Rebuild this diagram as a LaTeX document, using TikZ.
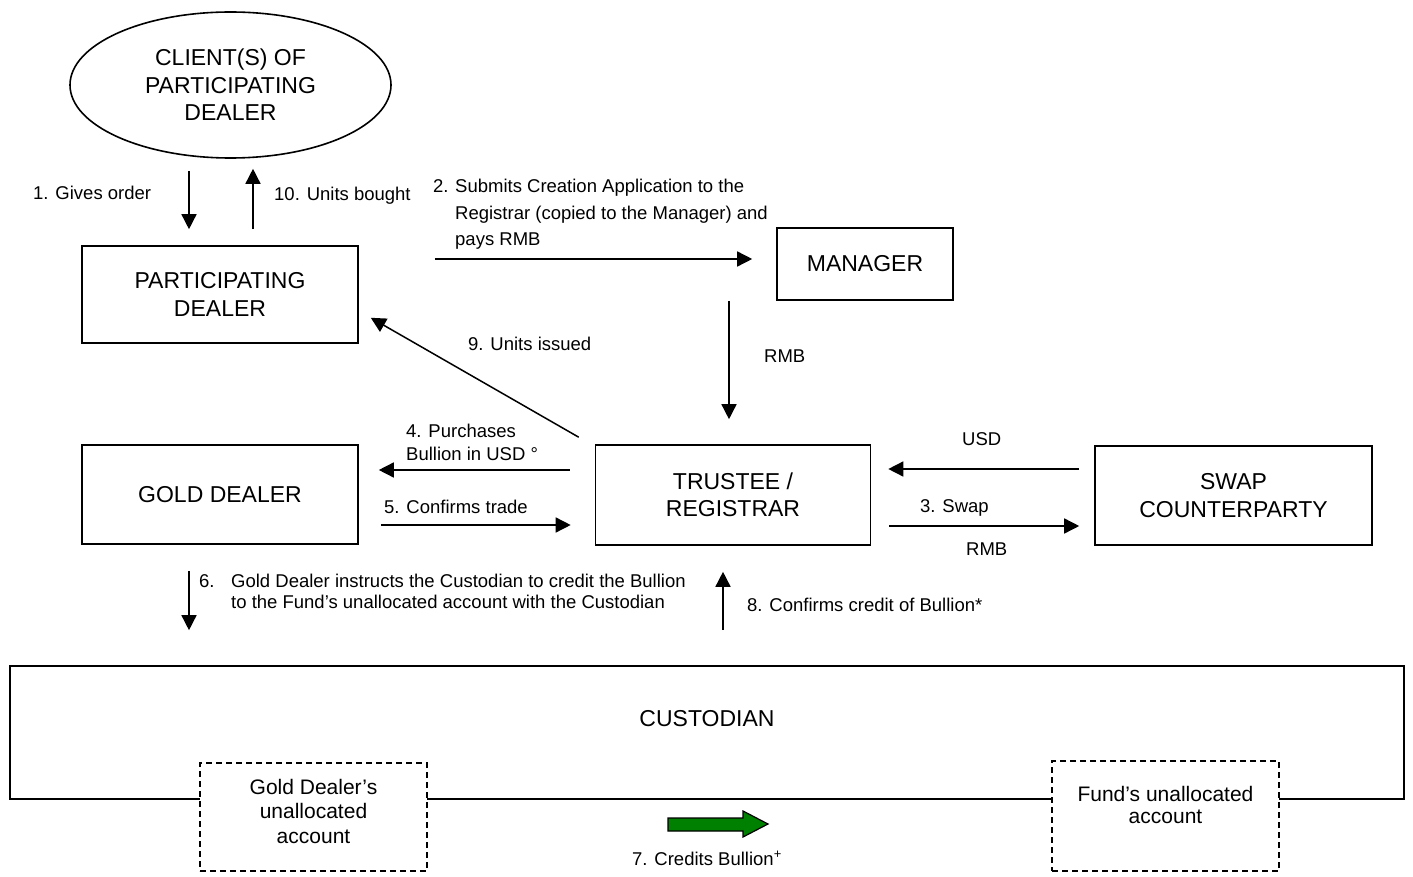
\documentclass[tikz,border=0pt]{standalone}
\usepackage{fontspec}
\setmainfont{Liberation Sans}
\usetikzlibrary{arrows.meta,shapes.geometric,calc}
\definecolor{dkgreen}{RGB}{0,128,0}
\newcommand\fbig{\fontsize{23}{27.5}\selectfont}
\newcommand\fsm{\fontsize{18.5}{21}\selectfont}
\begin{document}
\begin{tikzpicture}[x=1pt,y=-1pt,
  box/.style={draw, line width=1.6pt, inner sep=0pt, align=center, font=\fbig},
  acc/.style={draw, line width=1.5pt, dash pattern=on 6pt off 4pt, fill=white, inner sep=0pt},
  arr/.style={line width=1.5pt, -{Triangle[length=15pt,width=15pt]}},
  lbl/.style={inner sep=0pt, anchor=base west, font=\fsm},
]
\useasboundingbox (0,0) rectangle (1413,877);
\fill[white] (0,0) rectangle (1413,877);

% main nodes
\node[box, ellipse, minimum width=321pt, minimum height=146pt] (client) at (230.5,85) {CLIENT(S) OF\\PARTICIPATING\\DEALER};
\node[box, minimum width=276pt, minimum height=97pt] (pd) at (220,294.5) {PARTICIPATING\\DEALER};
\node[box, minimum width=176pt, minimum height=72pt] (manager) at (865,264) {MANAGER};
\node[box, minimum width=276pt, minimum height=99pt] (gold) at (220,494.5) {GOLD DEALER};
\node[box, minimum width=275pt, minimum height=100pt] (trustee) at (733,495) {TRUSTEE /\\REGISTRAR};
\node[box, minimum width=277pt, minimum height=99pt] (swap) at (1233.5,495.5) {SWAP\\COUNTERPARTY};
\node[box, minimum width=1394pt, minimum height=133pt,
  label={[font=\fbig, inner sep=0pt, yshift=13.5pt]center:CUSTODIAN}] (cust) at (707,732.5) {};

% accounts
\node[acc, minimum width=227pt, minimum height=108pt,
  label={[font=\fontsize{21}{24.5}\selectfont, align=center, inner sep=0pt, yshift=6pt]center:Gold Dealer’s\\unallocated\\account}] (gdacc) at (313.5,817) {};
\node[acc, minimum width=227pt, minimum height=110pt,
  label={[font=\fontsize{21}{21.5}\selectfont, align=center, inner sep=0pt, yshift=11pt]center:Fund’s unallocated\\account}] (fundacc) at (1165.5,816) {};

% helper coordinates
\coordinate (xa) at (189,0);
\coordinate (xb) at (253,0);
\coordinate (x3) at (729,0);
\coordinate (x8) at (723,0);
\coordinate (y2) at (0,259);
\coordinate (y4) at (0,470);
\coordinate (y5) at (0,525);
\coordinate (y6) at (0,469);
\coordinate (y7) at (0,526);

% connectors
\draw[arr, shorten <=12pt, shorten >=16pt] (client.south -| xa) -- (pd.north -| xa);
\draw[arr, shorten <=16pt, shorten >=10pt] (pd.north -| xb) -- (client.south -| xb);
\draw[arr, shorten <=76pt, shorten >=24pt] (pd.east |- y2) -- (manager.west |- y2);
\draw[arr, shorten >=25pt] (manager.south -| x3) -- (trustee.north -| x3);
\draw[arr] ($(trustee.north west)+(-16,-7)$) -- ($(pd.south east)+(12,-26)$);
\draw[arr, shorten <=25pt, shorten >=20pt] (trustee.west |- y4) -- (gold.east |- y4);
\draw[arr, shorten <=22pt, shorten >=24pt] (gold.east |- y5) -- (trustee.west |- y5);
\draw[arr, shorten <=15pt, shorten >=17pt] (swap.west |- y6) -- (trustee.east |- y6);
\draw[arr, shorten <=18pt, shorten >=15pt] (trustee.east |- y7) -- (swap.west |- y7);
\draw[arr, shorten <=26pt, shorten >=35pt] (gold.south -| xa) -- (cust.north -| xa);
\draw[arr, shorten <=35pt, shorten >=26pt] (cust.north -| x8) -- (trustee.south -| x8);

% green block arrow
\filldraw[fill=dkgreen, draw=black, line width=1.2pt] (668,818) -- (743,818) -- (743,811) -- (768,824) -- (743,837) -- (743,831) -- (668,831) -- cycle;

% labels
\node[lbl] (l1) at (33,200) {1. Gives order};
\node[lbl] (l10) at (274,201) {10. Units bought};
\node[lbl] (l2n) at (433,193) {2.};
\node[lbl] (l2a) at (455,193) {Submits Creation Application to the};
\node[lbl] (l2b) at (455,220) {Registrar (copied to the Manager) and};
\node[lbl] (l2c) at (455,246) {pays RMB};
\node[lbl] (lrmb) at (764,362) {RMB};
\node[lbl] (l9) at (468,350) {9. Units issued};
\node[lbl] (l4a) at (406,437) {4. Purchases};
\node[lbl] (l4b) at (406,460) {Bullion in USD °};
\node[lbl] (l5) at (384,513) {5. Confirms trade};
\node[lbl] (lusd) at (962,445) {USD};
\node[lbl] (l3) at (920,512) {3. Swap};
\node[lbl] (lrmb2) at (966,555) {RMB};
\node[lbl] (l6n) at (199,587) {6.};
\node[lbl] (l6a) at (231,587) {Gold Dealer instructs the Custodian to credit the Bullion};
\node[lbl] (l6b) at (231,608) {to the Fund’s unallocated account with the Custodian};
\node[lbl] (l8) at (747,611) {8. Confirms credit of Bullion*};
\node[lbl] (l7) at (632,865) {7. Credits Bullion\textsuperscript{+}};
\end{tikzpicture}
\end{document}
